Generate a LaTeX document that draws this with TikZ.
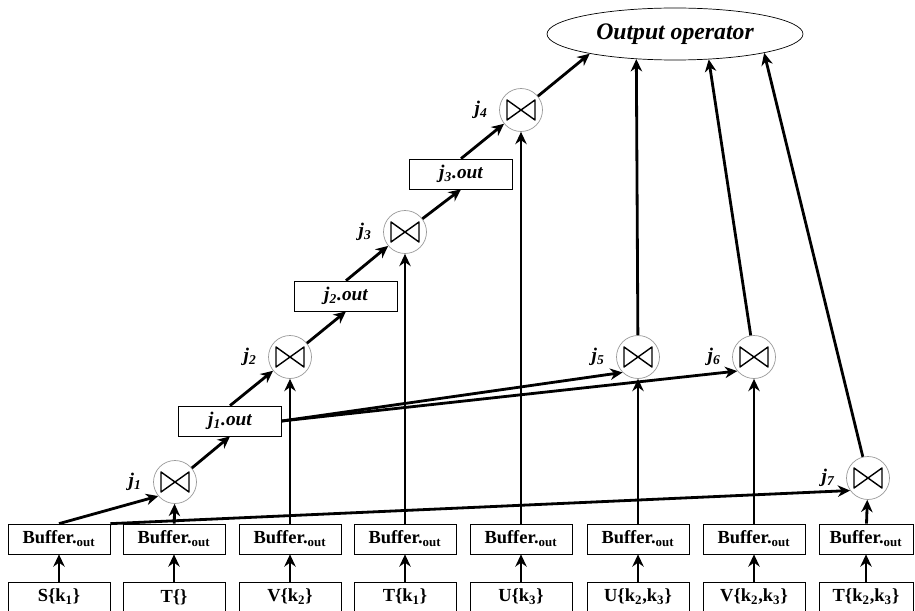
\documentclass[tikz,border=0pt]{standalone}
\usepackage{fontspec}
\setmainfont{Liberation Serif}
\usepackage{tikz}
\usetikzlibrary{positioning}
\usetikzlibrary{arrows,arrows.meta,shapes}
\tikzstyle{joinvertex}=[circle,fill=white,draw=black!40,minimum size=0.86cm,inner sep=0pt]
\tikzstyle{bufbox}=[rectangle,draw,minimum height=0.6cm,inner sep=0pt,font=\bfseries\fontsize{10.5}{12}\selectfont]
\tikzstyle{outbox}=[rectangle,draw,minimum width=2.06cm,minimum height=0.6cm,inner sep=0pt,font=\bfseries\itshape\fontsize{11}{13}\selectfont]
\tikzstyle{edge} = [draw,line width=1.6pt,-{Stealth[length=7pt,width=6.5pt]}]
\tikzstyle{jlabel} = [font=\bfseries\itshape\fontsize{11}{13}\selectfont]
\tikzstyle{bowtie} = [draw,line width=0.8pt,line join=round]
\tikzset{op/.style={ellipse,draw,minimum width=5.12cm,minimum height=1.04cm,inner sep=0pt,font=\bfseries\itshape\fontsize{13.5}{15}\selectfont}}

\begin{document}
\begin{tikzpicture}[x=0.02cm,y=-0.02cm]
    \useasboundingbox (0,0) rectangle (915,611);
    % Input streams and their buffers
    \foreach \pos/\name/\label/\w in {{(59,597)/s1/{S\{k\textsubscript{1}\}}/2.04}, {(174,597)/s2/{T\{\}}/2.04},
    {(290,597)/s3/{V\{k\textsubscript{2}\}}/2.04}, {(405,597)/s4/{T\{k\textsubscript{1}\}}/2.04},
    {(521,597)/s5/{U\{k\textsubscript{3}\}}/2.04}, {(638,597)/s6/{U\{k\textsubscript{2},k\textsubscript{3}\}}/2.04},
    {(754,597)/s7/{V\{k\textsubscript{2},k\textsubscript{3}\}}/2.04}, {(866,597)/s8/{T\{k\textsubscript{2},k\textsubscript{3}\}}/1.88}}
        \node[bufbox,minimum width=\w cm] (\name) at \pos {\label};
    \foreach \pos/\name/\w in {{(59,539)/b1/2.04}, {(174,539)/b2/2.04}, {(290,539)/b3/2.04}, {(405,539)/b4/2.04},
    {(521,539)/b5/2.04}, {(638,539)/b6/2.04}, {(754,539)/b7/2.04}, {(866,539)/b8/1.88}}
        \node[bufbox,minimum width=\w cm] (\name) at \pos {Buffer.\textsubscript{out}};

    % Join operators (circle with a bowtie) and intermediate results
    \foreach \pos/\name/\num in {{(175,482)/j1/1}, {(290,357)/j2/2}, {(405,232)/j3/3}, {(521,110)/j4/4},
    {(638,357)/j5/5}, {(754,357)/j6/6}, {(868,478)/j7/7}}{
        \node[joinvertex,label={[jlabel,label distance=3pt]left:j\textsubscript{\num}}] (\name) at \pos {};
        \path[bowtie] (\name) ++(-14,-10) -- ++(0,20) -- ++(28,-20) -- ++(0,20) -- cycle;
    }
    \foreach \pos/\name/\num in {{(230,421)/o1/1}, {(346,296)/o2/2}, {(461,174)/o3/3}}
        \node[outbox] (\name) at \pos {j\textsubscript{\num}.out};
    \node[op] (out) at (675,34) {Output operator};

    % Connect everything
    \foreach \source/\dest in {s1/b1, s2/b2, s3/b3, s4/b4, s5/b5, s6/b6, s7/b7, s8/b8,
    b2/j1, b3/j2, b4/j3, b5/j4, b6/j5, b7/j6, b8/j7,
    j1/o1.south, o1.north/j2, j2/o2.south, o2.north/j3, j3/o3.south, o3.north/j4,
    b1.north/j1.220, b1.north east/j7.215, o1.east/j5.225, o1.east/j6.220,
    j4/out.193, j5/out.-147, j6/out.-37, j7/out.-12}
        \path[edge] (\source) -- (\dest);
\end{tikzpicture}
\end{document}
